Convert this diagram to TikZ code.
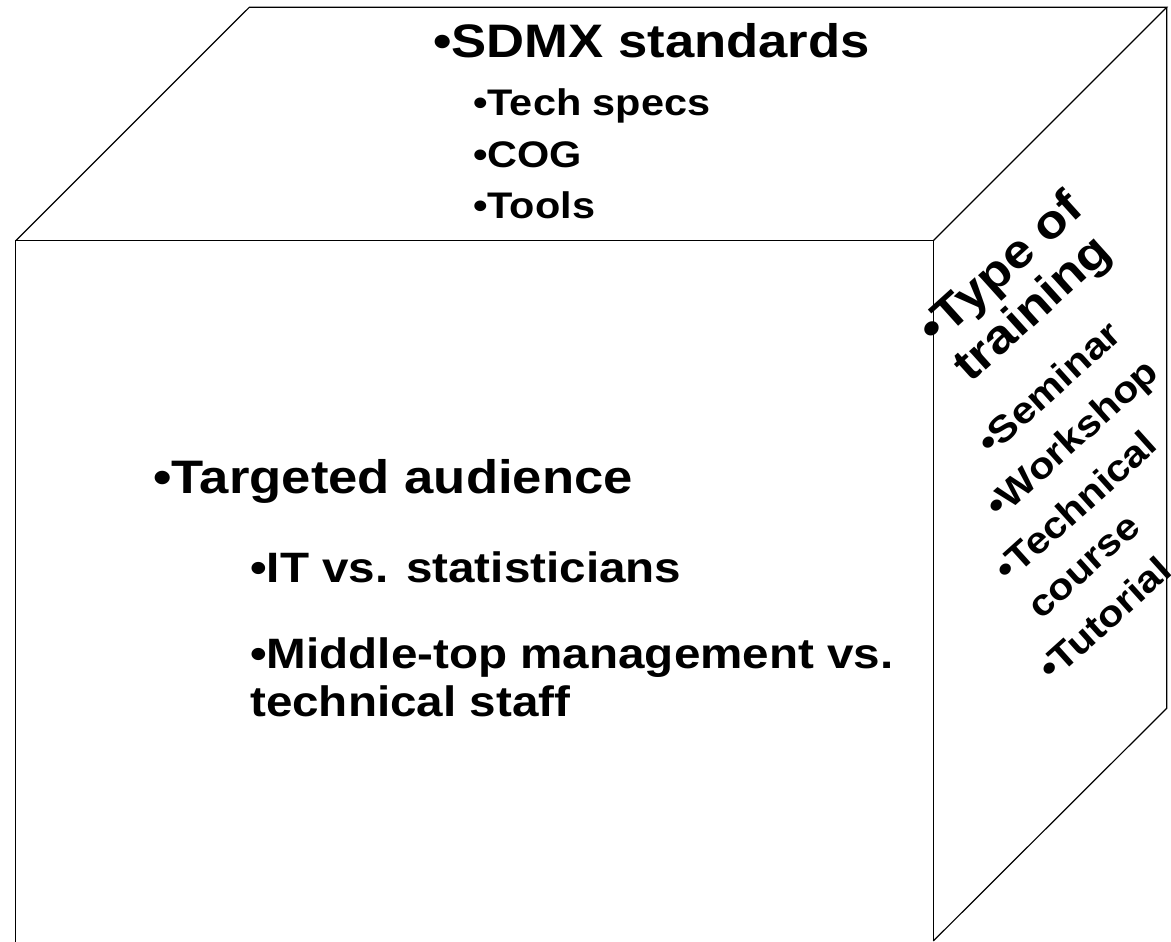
\documentclass[tikz,border=0pt]{standalone}
\usepackage{fontspec}
\newfontfamily\cubefont{Liberation Sans}[FakeStretch=1.12]
\begin{document}
\begin{tikzpicture}[x=1pt,y=-1pt,
  cubeline/.style={black,line width=1.2pt},
  headtxt/.style={anchor=base west,inner sep=0pt,font=\cubefont\bfseries\fontsize{47}{54}\selectfont},
  fronttxt/.style={anchor=base west,inner sep=0pt,font=\cubefont\bfseries\fontsize{42.5}{48}\selectfont},
  subtxt/.style={anchor=base west,inner sep=0pt,font=\cubefont\bfseries\fontsize{37}{42}\selectfont},
  sidetxt/.style={rotate=42}]
\useasboundingbox (0,0) rectangle (1171,942);

%% cube corners
\coordinate (fbl) at (15.7,942);
\coordinate (ftl) at (15.7,240.7);
\coordinate (ftr) at (933.3,240.7);
\coordinate (fbr) at (933.3,941);
\coordinate (btl) at (249.3,7.3);
\coordinate (btr) at (1166.7,7.3);
\coordinate (bbr) at (1166.7,708.3);

\draw[cubeline] (fbl) -- (ftl) -- (ftr) -- (fbr);
\draw[cubeline] (ftl) -- (btl) -- (btr) -- (ftr);
\draw[cubeline] (btr) -- (bbr) -- (fbr);

%% top face
\node[headtxt] (sdmx) at (433,58) {•SDMX standards};
\node[subtxt] (spec) at (473,116) {•Tech specs};
\node[subtxt] (cog) at (473,167) {•COG};
\node[subtxt] (tool) at (473,218) {•Tools};

%% front face
\node[headtxt] (aud) at (153,493.5) {•Targeted audience};
\node[fronttxt] (it) at (250,582) {•IT vs. statisticians};
\node[fronttxt] (mgmt) at (250,668.5) {•Middle-top management vs.};
\node[fronttxt] (staff) at (250,716.5) {technical staff};

%% side face
\node[headtxt,sidetxt] (type) at (935.5,347) {•Type of};
\node[headtxt,sidetxt] (trng) at (970,384) {training};
\node[subtxt,sidetxt] (sem) at (991,457) {•Seminar};
\node[subtxt,sidetxt] (work) at (999.7,520) {•Workshop};
\node[subtxt,sidetxt] (tech) at (1008.7,583.6) {•Technical};
\node[subtxt,sidetxt] (crs) at (1041,621) {course};
\node[subtxt,sidetxt] (tut) at (1052,683) {•Tutorial};

\end{tikzpicture}
\end{document}
